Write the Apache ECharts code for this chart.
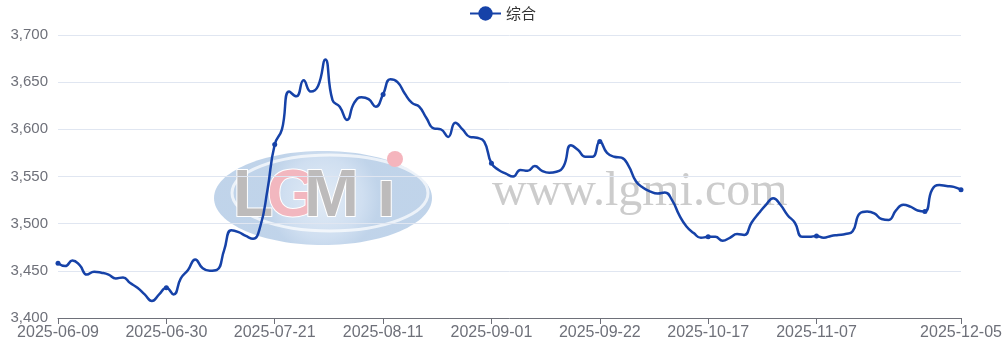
<!DOCTYPE html>
<html>
<head>
<meta charset="utf-8">
<script src="https://cdn.jsdelivr.net/npm/echarts@6/dist/echarts.min.js"></script>
<style>
html,body{margin:0;padding:0;background:#fff;}
#c{width:1005px;height:346px;}
</style>
</head>
<body>
<div id="c"></div>
<script>
const seriesName = '综合';
const dates = [
'2025-06-09','2025-06-10','2025-06-11','2025-06-12','2025-06-13',
'2025-06-16','2025-06-17','2025-06-18','2025-06-19','2025-06-20',
'2025-06-23','2025-06-24','2025-06-25','2025-06-26','2025-06-27',
'2025-06-30','2025-07-01','2025-07-02','2025-07-03','2025-07-04',
'2025-07-07','2025-07-08','2025-07-09','2025-07-10','2025-07-11',
'2025-07-14','2025-07-15','2025-07-16','2025-07-17','2025-07-18',
'2025-07-21','2025-07-22','2025-07-23','2025-07-24','2025-07-25',
'2025-07-28','2025-07-29','2025-07-30','2025-07-31','2025-08-01',
'2025-08-04','2025-08-05','2025-08-06','2025-08-07','2025-08-08',
'2025-08-11','2025-08-12','2025-08-13','2025-08-14','2025-08-15',
'2025-08-18','2025-08-19','2025-08-20','2025-08-21','2025-08-22',
'2025-08-25','2025-08-26','2025-08-27','2025-08-28','2025-08-29',
'2025-09-01','2025-09-02','2025-09-03','2025-09-04','2025-09-05',
'2025-09-08','2025-09-09','2025-09-10','2025-09-11','2025-09-12',
'2025-09-15','2025-09-16','2025-09-17','2025-09-18','2025-09-19',
'2025-09-22','2025-09-23','2025-09-24','2025-09-25','2025-09-26',
'2025-09-28','2025-09-29','2025-09-30','2025-10-09','2025-10-10',
'2025-10-11','2025-10-13','2025-10-14','2025-10-15','2025-10-16',
'2025-10-17','2025-10-20','2025-10-21','2025-10-22','2025-10-23',
'2025-10-24','2025-10-27','2025-10-28','2025-10-29','2025-10-30',
'2025-10-31','2025-11-03','2025-11-04','2025-11-05','2025-11-06',
'2025-11-07','2025-11-10','2025-11-11','2025-11-12','2025-11-13',
'2025-11-14','2025-11-17','2025-11-18','2025-11-19','2025-11-20',
'2025-11-21','2025-11-24','2025-11-25','2025-11-26','2025-11-27',
'2025-11-28','2025-12-01','2025-12-02','2025-12-03','2025-12-04',
'2025-12-05'
];
const values = [
3458,3455,3461,3456,3446,3449,3448,3446,3442,3443,
3437,3432,3425,3418,3425,3432,3425,3442,3451,3462,
3453,3450,3451,3472,3493,3491,3487,3484,3497,3536,
3584,3600,3640,3635,3652,3640,3646,3674,3631,3624,
3610,3628,3634,3632,3624,3637,3653,3650,3638,3628,
3624,3612,3601,3600,3592,3607,3600,3592,3591,3587,
3564,3557,3553,3550,3557,3556,3561,3556,3554,3555,
3561,3583,3578,3571,3571,3587,3575,3571,3570,3561,
3545,3538,3534,3532,3533,3525,3509,3497,3490,3485,
3486,3486,3482,3485,3489,3488,3501,3511,3520,3527,
3520,3509,3501,3486,3486,3487,3485,3487,3488,3489,
3492,3511,3513,3511,3505,3504,3514,3520,3518,3514,
3513,3536,3541,3540,3539,3536
];
const yMin = 3400, yMax = 3700, yStep = 50;

const lineColor = '#1642a8';
const lastIdx = dates.length - 1;
const labelShown = (i) => (i % 15 === 0 && i <= 105) || i === lastIdx;
const symbolShown = (i) => i % 15 === 0 || i === lastIdx;

const chart = echarts.init(document.getElementById('c'), null, {renderer: 'canvas'});
const fontFam = '"Liberation Sans", Arial, "Noto Sans CJK SC", sans-serif';
chart.setOption({
  animation: false,
  backgroundColor: '#ffffff',
  legend: {
    top: 1,
    left: 'center',
    itemWidth: 31,
    itemHeight: 18,
    itemGap: 12,
    textStyle: {fontSize: 15, color: '#333', fontFamily: '"Noto Sans CJK SC", sans-serif'},
    data: [seriesName]
  },
  grid: {left: 58, right: 44, top: 35, bottom: 28, containLabel: false},
  graphic: [
    {
      type: 'ellipse', silent: true, z: -10,
      shape: {cx: 323, cy: 198, rx: 109, ry: 47},
      style: {
        fill: new echarts.graphic.RadialGradient(0.5, 0.5, 0.6, [
          {offset: 0, color: '#dde8f4'},
          {offset: 0.7, color: '#c7d9ee'},
          {offset: 1, color: '#b5cce6'}
        ]),
        opacity: 0.85
      }
    },
    {
      type: 'ellipse', silent: true, z: -9,
      shape: {cx: 330, cy: 193, rx: 98, ry: 38},
      style: {fill: 'none', stroke: '#ffffff', lineWidth: 3, opacity: 0.7}
    },
    {type: 'text', silent: true, z: -8, left: 232, top: 164,
      style: {text: 'L', fontSize: 66, fontWeight: 'bold', fontFamily: '"Liberation Sans", Arial, sans-serif', fill: '#bdbbbb', stroke: '#ffffff', lineWidth: 2}},
    {type: 'text', silent: true, z: -8, left: 266, top: 164,
      style: {text: 'G', fontSize: 66, fontWeight: 'bold', fontFamily: '"Liberation Sans", Arial, sans-serif', fill: '#f2b7bf', stroke: '#ffffff', lineWidth: 2}},
    {type: 'text', silent: true, z: -8, left: 303, top: 164,
      style: {text: 'M', fontSize: 66, fontWeight: 'bold', fontFamily: '"Liberation Sans", Arial, sans-serif', fill: '#bdbbbb', stroke: '#ffffff', lineWidth: 2}},
    {type: 'text', silent: true, z: -8, left: 376, top: 164,
      style: {text: 'ı', fontSize: 66, fontWeight: 'bold', fontFamily: '"Liberation Sans", Arial, sans-serif', fill: '#bdbbbb', stroke: '#ffffff', lineWidth: 2}},
    {type: 'circle', silent: true, z: -8, shape: {cx: 395, cy: 159, r: 8}, style: {fill: '#f5b5bd'}},
    {type: 'text', silent: true, z: -8, left: 492, top: 168,
      style: {text: 'www.lgmi.com', fontSize: 48, fontFamily: '"Liberation Serif", "Times New Roman", serif', fill: '#c9c9c9', opacity: 0.95}}
  ],
  xAxis: {
    type: 'category',
    data: dates,
    boundaryGap: false,
    axisLine: {lineStyle: {color: '#6e7079', width: 1}},
    axisTick: {show: true, interval: (i) => labelShown(i), length: 6, lineStyle: {color: '#6e7079'}},
    axisLabel: {
      interval: (i) => labelShown(i),
      color: '#6e7079', fontSize: 16, fontFamily: fontFam, margin: 7,
      showMaxLabel: true, hideOverlap: false
    },
    splitLine: {show: false}
  },
  yAxis: {
    type: 'value',
    min: yMin, max: yMax, interval: yStep,
    axisLine: {show: false},
    axisTick: {show: false},
    axisLabel: {
      color: '#6e7079', fontSize: 15, fontFamily: fontFam, margin: 10,
      formatter: (v) => v.toLocaleString('en-US')
    },
    splitLine: {lineStyle: {color: '#e0e6f1', width: 1}}
  },
  series: [{
    name: seriesName,
    type: 'line',
    data: values,
    smooth: true,
    symbol: 'circle',
    showSymbol: true,
    showAllSymbol: true,
    symbolSize: (v, p) => symbolShown(p.dataIndex) ? 5 : 0,
    lineStyle: {color: lineColor, width: 2.5},
    itemStyle: {color: lineColor},
    z: 5
  }]
});
</script>
</body>
</html>
